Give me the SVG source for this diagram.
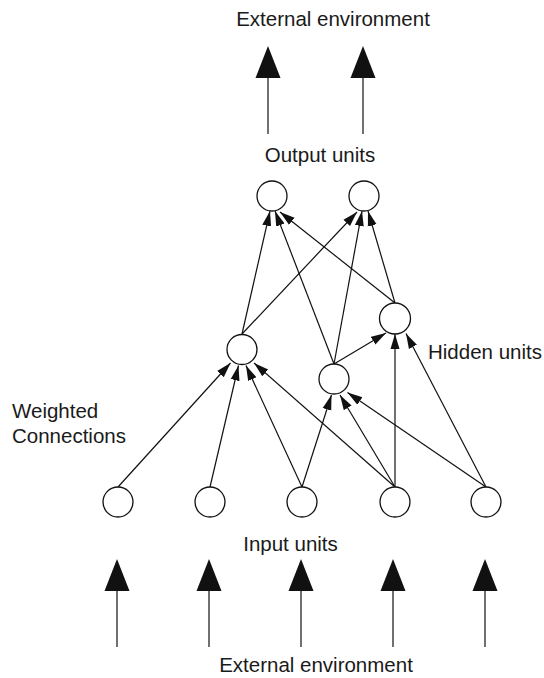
<svg xmlns="http://www.w3.org/2000/svg" width="544" height="678" viewBox="0 0 544 678">
<defs>
<style>
.lbl{font-family:"Liberation Sans",Arial,sans-serif;font-size:20.5px;fill:#1a1a1a}
.mid{text-anchor:middle}
.node circle{fill:#fff;stroke:#111;stroke-width:1.3}
.edge{stroke:#111;stroke-width:1.2;fill:none;marker-end:url(#ah)}
.io line{stroke:#111;stroke-width:1.2}
.io polygon{fill:#111}
</style>
<marker id="ah" markerUnits="userSpaceOnUse" markerWidth="16" markerHeight="12" refX="15" refY="5" orient="auto">
<path d="M0,0.5 L15,5 L0,9.5 Z" fill="#111"/>
</marker>
</defs>
<rect width="544" height="678" fill="#fff"/>

<g id="labels">
<text class="lbl mid" x="333" y="26">External environment</text>
<text class="lbl mid" x="320" y="162">Output units</text>
<text class="lbl" x="428" y="359">Hidden units</text>
<text class="lbl" x="12" y="418">Weighted</text>
<text class="lbl" x="12" y="443">Connections</text>
<text class="lbl mid" x="290.5" y="551">Input units</text>
<text class="lbl mid" x="316" y="672">External environment</text>
</g>

<g id="io-arrows" class="io">
<line x1="268" y1="78" x2="268" y2="134"/><polygon points="268,46 255.5,78 280.5,78"/>
<line x1="363" y1="78" x2="363" y2="134"/><polygon points="363,46 350.5,78 375.5,78"/>
<line x1="117" y1="590" x2="117" y2="647"/><polygon points="117,559 104.5,591 129.5,591"/>
<line x1="209" y1="590" x2="209" y2="647"/><polygon points="209,559 196.5,591 221.5,591"/>
<line x1="301" y1="590" x2="301" y2="647"/><polygon points="301,559 288.5,591 313.5,591"/>
<line x1="393" y1="590" x2="393" y2="647"/><polygon points="393,559 380.5,591 405.5,591"/>
<line x1="485" y1="590" x2="485" y2="647"/><polygon points="485,559 472.5,591 497.5,591"/>
</g>

<g id="connectors">
<line class="edge" x1="242" y1="334" x2="270" y2="211"/>
<line class="edge" x1="334" y1="364" x2="275" y2="211"/>
<line class="edge" x1="395" y1="303" x2="280" y2="212"/>
<line class="edge" x1="242" y1="334" x2="357" y2="212"/>
<line class="edge" x1="334" y1="364" x2="362" y2="211"/>
<line class="edge" x1="395" y1="303" x2="368" y2="211"/>
<line class="edge" x1="334" y1="364" x2="386" y2="333"/>
<line class="edge" x1="118" y1="487" x2="230.5" y2="363"/>
<line class="edge" x1="210" y1="487" x2="238.5" y2="365.5"/>
<line class="edge" x1="302" y1="487" x2="246" y2="365.5"/>
<line class="edge" x1="395" y1="487" x2="254" y2="363"/>
<line class="edge" x1="302" y1="487" x2="331.5" y2="395"/>
<line class="edge" x1="395" y1="487" x2="340" y2="395"/>
<line class="edge" x1="486" y1="487" x2="347.5" y2="392.5"/>
<line class="edge" x1="395" y1="487" x2="395" y2="334"/>
<line class="edge" x1="486" y1="487" x2="406" y2="333.5"/>
</g>

<g id="out1" class="node"><circle cx="272" cy="196" r="15"/></g>
<g id="out2" class="node"><circle cx="364" cy="196" r="15"/></g>
<g id="hid1" class="node"><circle cx="242" cy="349.5" r="15"/></g>
<g id="hid2" class="node"><circle cx="334" cy="379" r="15"/></g>
<g id="hid3" class="node"><circle cx="395" cy="318.5" r="15.5"/></g>
<g id="in1" class="node"><circle cx="118" cy="502" r="15"/></g>
<g id="in2" class="node"><circle cx="210" cy="502" r="15"/></g>
<g id="in3" class="node"><circle cx="302" cy="502" r="15"/></g>
<g id="in4" class="node"><circle cx="395" cy="502" r="15"/></g>
<g id="in5" class="node"><circle cx="486" cy="502" r="15"/></g>
</svg>
